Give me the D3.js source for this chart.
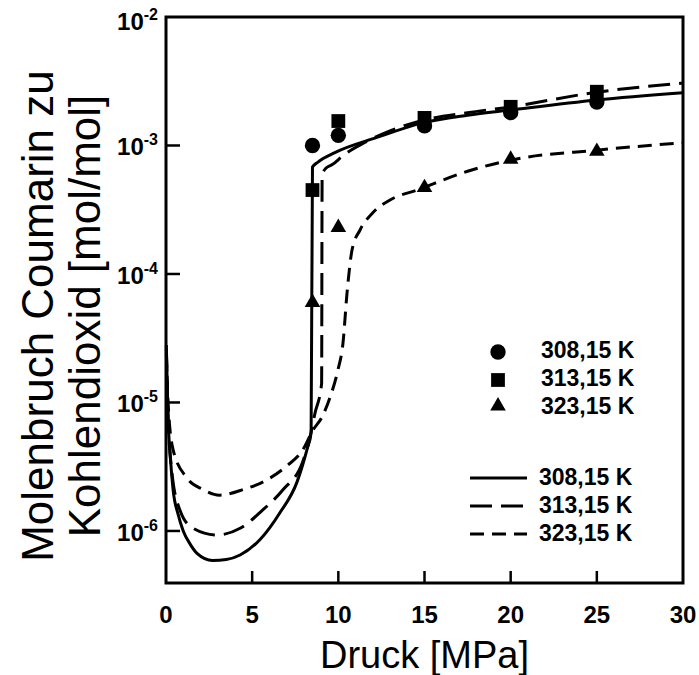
<!DOCTYPE html>
<html>

<head>
  <meta charset="utf-8">
  <title>Coumarin in CO2</title>
  <script src="https://cdn.jsdelivr.net/npm/d3@7"></script>
  <style>
    body {
      margin: 0;
      background: #fff;
    }

    text {
      font-family: "Liberation Sans", Arial, Helvetica, sans-serif;
      fill: #000;
    }

    .tick-label {
      font-size: 24px;
      font-weight: bold;
    }

    .legend text {
      font-size: 23px;
      font-weight: bold;
    }
  </style>
</head>

<body>
  <svg id="chart" width="699" height="675"></svg>

  <script>
    // Temperatures
    var series = ["308,15 K", "313,15 K", "323,15 K"];

    // measured points: pressure [MPa] and mole fraction
    var pointPressure = [8.5, 10, 15, 20, 25];
    var points308 = [1.0e-3, 1.2e-3, 1.42e-3, 1.8e-3, 2.18e-3];
    var points313 = [4.5e-4, 1.55e-3, 1.64e-3, 2.0e-3, 2.62e-3];
    var points323 = [6.0e-5, 2.3e-4, 4.7e-4, 7.8e-4, 9.0e-4];

    // model curves
    var curve308P = [0.02, 0.1, 0.25, 0.41, 0.7, 1.0, 1.4, 1.8, 2.7, 3.5, 4.3, 5.5, 6.6, 7.6, 8.18, 8.42,
      8.5, 8.8, 9.8, 12.2, 14.9, 17.5, 20, 25, 30];
    var curve308X = [2.8e-5, 9e-6, 3.8e-6, 2.1e-6, 1.35e-6, 1.0e-6, 7.9e-7, 6.7e-7, 5.9e-7, 6.0e-7, 6.5e-7, 8.7e-7,
      1.38e-6, 2.4e-6, 4.3e-6, 5.8e-6, 6.8e-4, 7.4e-4, 8.8e-4, 1.15e-3, 1.5e-3, 1.72e-3, 1.89e-3, 2.26e-3, 2.57e-3];

    var curve313P = [0.02, 0.12, 0.35, 0.81, 1.57, 2.96, 4.3, 5.6, 6.8, 7.95, 8.3, 8.65, 9.03, 9.06, 9.25, 9.65,
      10.3, 11.5, 13, 15, 17.5, 20, 25, 30];
    var curve313X = [2.6e-5, 8e-6, 2.8e-6, 1.45e-6, 1.05e-6, 9.3e-7, 1.05e-6, 1.45e-6, 2.1e-6, 3.5e-6, 5.0e-6,
      8.3e-6, 1.4e-5, 5.8e-4, 6.6e-4, 7.1e-4, 8.4e-4, 1.05e-3, 1.3e-3, 1.58e-3, 1.8e-3, 2.0e-3, 2.6e-3, 3.06e-3];

    var curve323P = [0.02, 0.12, 0.41, 1.2, 2.15, 3.1, 4.47, 5.86, 7.0, 7.95, 8.53, 9.05, 9.52, 9.98, 10.27, 10.5,
      10.8, 11.26, 12.0, 13.0, 14.57, 17.5, 20, 25, 30];
    var curve323X = [2.4e-5, 1e-5, 4.3e-6, 2.6e-6, 2.1e-6, 1.9e-6, 2.1e-6, 2.5e-6, 3.2e-6, 4.3e-6, 6.1e-6, 7.7e-6,
      1.1e-5, 1.8e-5, 2.9e-5, 7e-5, 1.55e-4, 2.2e-4, 3.0e-4, 3.77e-4, 4.5e-4, 6.3e-4, 7.7e-4, 9.2e-4, 1.05e-3];

    // axes
    var xTicks = [0, 5, 10, 15, 20, 25, 30];
    var yTicks = [1e-6, 1e-5, 1e-4, 1e-3, 1e-2];
    var yTickExp = ["-6", "-5", "-4", "-3", "-2"];
    var xTitle = "Druck [MPa]";
    var yTitle = ["Molenbruch Coumarin zu", "Kohlendioxid [mol/mol]"];

    var svg = d3.select("#chart");

    var plotLeft = 166, plotRight = 683, plotTop = 17, plotBottom = 583;

    var x = d3.scaleLinear()
      .domain([0, 30])
      .range([plotLeft, plotRight]);

    var y = d3.scaleLog()
      .domain([Math.pow(10, -6.405), 1e-2])
      .range([plotBottom, plotTop]);

    var symbols = [d3.symbolCircle, d3.symbolSquare, d3.symbolTriangle];
    var symbolSizes = [185, 190, 105];
    var dashes = [null, "22,9", "14,8"];

    var line = d3.line()
      .x(d => x(d[0]))
      .y(d => y(d[1]))
      .curve(d3.curveMonotoneX);

    // curves
    var curves = [
      d3.zip(curve308P, curve308X),
      d3.zip(curve313P, curve313X),
      d3.zip(curve323P, curve323X)
    ];

    svg.append("g")
      .selectAll("path")
      .data(curves)
      .enter()
      .append("path")
      .attr("d", line)
      .attr("fill", "none")
      .attr("stroke", "#000")
      .attr("stroke-width", 3)
      .attr("stroke-dasharray", (d, i) => dashes[i]);

    // frame
    svg.append("rect")
      .attr("x", plotLeft)
      .attr("y", plotTop)
      .attr("width", plotRight - plotLeft)
      .attr("height", plotBottom - plotTop)
      .attr("fill", "none")
      .attr("stroke", "#000")
      .attr("stroke-width", 3);

    // ticks, pointing inward
    svg.append("g")
      .selectAll("line")
      .data(xTicks.slice(1, -1))
      .enter()
      .append("line")
      .attr("x1", d => x(d))
      .attr("x2", d => x(d))
      .attr("y1", plotBottom)
      .attr("y2", plotBottom - 12)
      .attr("stroke", "#000")
      .attr("stroke-width", 2.5);

    svg.append("g")
      .selectAll("line")
      .data(yTicks.slice(0, -1))
      .enter()
      .append("line")
      .attr("x1", plotLeft)
      .attr("x2", plotLeft + 14)
      .attr("y1", d => y(d))
      .attr("y2", d => y(d))
      .attr("stroke", "#000")
      .attr("stroke-width", 2.5);

    svg.append("g")
      .selectAll("text")
      .data(xTicks)
      .enter()
      .append("text")
      .attr("class", "tick-label")
      .attr("x", d => x(d))
      .attr("y", 623)
      .attr("text-anchor", "middle")
      .text(d => d);

    var yLabel = svg.append("g")
      .selectAll("text")
      .data(yTicks)
      .enter()
      .append("text")
      .attr("class", "tick-label")
      .attr("x", 158)
      .attr("y", (d, i) => y(d) + (i === yTicks.length - 1 ? 13 : 10))
      .attr("text-anchor", "end");

    yLabel.append("tspan")
      .text("10");

    yLabel.append("tspan")
      .attr("dy", -10)
      .style("font-size", "16px")
      .text((d, i) => yTickExp[i]);

    // axis titles
    svg.append("text")
      .attr("x", (plotLeft + plotRight) / 2)
      .attr("y", 668)
      .attr("text-anchor", "middle")
      .style("font-size", "38px")
      .text(xTitle);

    svg.append("g")
      .attr("transform", "translate(0,316) rotate(-90)")
      .selectAll("text")
      .data(yTitle)
      .enter()
      .append("text")
      .attr("x", 0)
      .attr("y", (d, i) => 53 + i * 47)
      .attr("text-anchor", "middle")
      .style("font-size", "44px")
      .text(d => d);

    // measured points
    var pointSets = [points308, points313, points323];

    pointSets.forEach(function (vals, i) {
      svg.append("g")
        .selectAll("path")
        .data(d3.zip(pointPressure, vals))
        .enter()
        .append("path")
        .attr("transform", d => "translate(" + x(d[0]) + "," + y(d[1]) + ")")
        .attr("d", d3.symbol(symbols[i], symbolSizes[i]))
        .attr("fill", "#000");
    });

    // legends
    var legend = svg.append("g").attr("class", "legend");

    var markerRow = legend.selectAll(".marker-row")
      .data(series)
      .enter()
      .append("g")
      .attr("class", "marker-row")
      .attr("transform", (d, i) => "translate(0," + (358 + i * 28) + ")");

    markerRow.append("path")
      .attr("transform", (d, i) => "translate(498," + (i === 2 ? -8 : -6) + ")")
      .attr("d", (d, i) => d3.symbol(symbols[i], symbolSizes[i])())
      .attr("fill", "#000");

    markerRow.append("text")
      .attr("x", 541)
      .text(d => d);

    var lineRow = legend.selectAll(".line-row")
      .data(series)
      .enter()
      .append("g")
      .attr("class", "line-row")
      .attr("transform", (d, i) => "translate(0," + (485 + i * 28) + ")");

    lineRow.append("line")
      .attr("x1", 470)
      .attr("x2", 527)
      .attr("y1", -7)
      .attr("y2", -7)
      .attr("stroke", "#000")
      .attr("stroke-width", 3)
      .attr("stroke-dasharray", (d, i) => dashes[i]);

    lineRow.append("text")
      .attr("x", 539)
      .text(d => d);
  </script>
</body>

</html>
